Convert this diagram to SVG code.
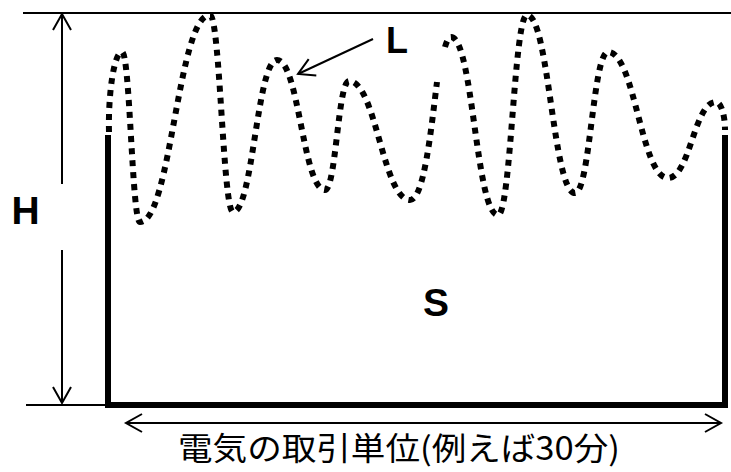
<svg xmlns="http://www.w3.org/2000/svg" width="731" height="472" viewBox="0 0 731 472">
<style>
.thin{fill:none;stroke:#000;stroke-width:2}
.wall{fill:none;stroke:#000;stroke-width:6;stroke-linejoin:miter}
.dots{fill:none;stroke:#000;stroke-width:6;stroke-dasharray:6 6}
.lbl{font-family:"Liberation Sans",Arial,sans-serif;font-weight:bold;fill:#000}
.cap{font-family:"Noto Sans CJK JP",sans-serif;font-size:32px;fill:#000}
</style>
<defs>
<marker id="arr" viewBox="-20 -12 24 24" refX="0" refY="0" markerWidth="24" markerHeight="24" orient="auto-start-reverse" markerUnits="userSpaceOnUse">
<path d="M-16,-9 L0,0 L-16,9" fill="none" stroke="#000" stroke-width="2"/>
</marker>
</defs>
<rect width="731" height="472" fill="#fff"/>
<g id="box">
<polyline class="wall" points="108,135 108,405 725,405 725,135"/>
</g>
<g id="reference-lines">
<line class="thin" x1="23" y1="13" x2="731" y2="13"/>
<line class="thin" x1="26" y1="405" x2="108" y2="405"/>
</g>
<g id="curve-L">
<path class="dots" d="M109,132 C108,95 114,52 122,52 C130,52 132,222 140,222 C171,222 178,15 210,15 C220,15 223,212 233,212 C253,212 257,60 277,60 C299,60 303,190 325,190 C336,190 338,81 349,81 C376,81 383,200 410,200 C424,200 431,130 437,82"/>
<path class="dots" d="M445,47 C447,40 449,37 451,37 C473,37 476,215 498,215 C511,215 514,15 527,15 C549,15 553,193 575,193 C590,193 593,52 608,52 C635,52 641,178 668,178 C690,178 694,102 716,102 C721,102 725,115 725,130"/>
</g>
<g id="connectors">
<line class="thin" x1="62" y1="184" x2="62" y2="14" marker-end="url(#arr)"/>
<line class="thin" x1="62" y1="250" x2="62" y2="403" marker-end="url(#arr)"/>
<line class="thin" x1="126" y1="423" x2="721" y2="423" marker-start="url(#arr)" marker-end="url(#arr)"/>
<line class="thin" x1="373" y1="39" x2="298" y2="74" marker-end="url(#arr)"/>
</g>
<g id="label-H"><text class="lbl" x="25.5" y="224" font-size="39" text-anchor="middle">H</text></g>
<g id="label-L"><text class="lbl" x="386" y="53" font-size="36">L</text></g>
<g id="label-S"><text class="lbl" x="436" y="316" font-size="39" text-anchor="middle">S</text></g>
<g id="label-unit"><text class="cap" x="178" y="460" textLength="442" lengthAdjust="spacingAndGlyphs">電気の取引単位(例えば30分)</text></g>
</svg>
